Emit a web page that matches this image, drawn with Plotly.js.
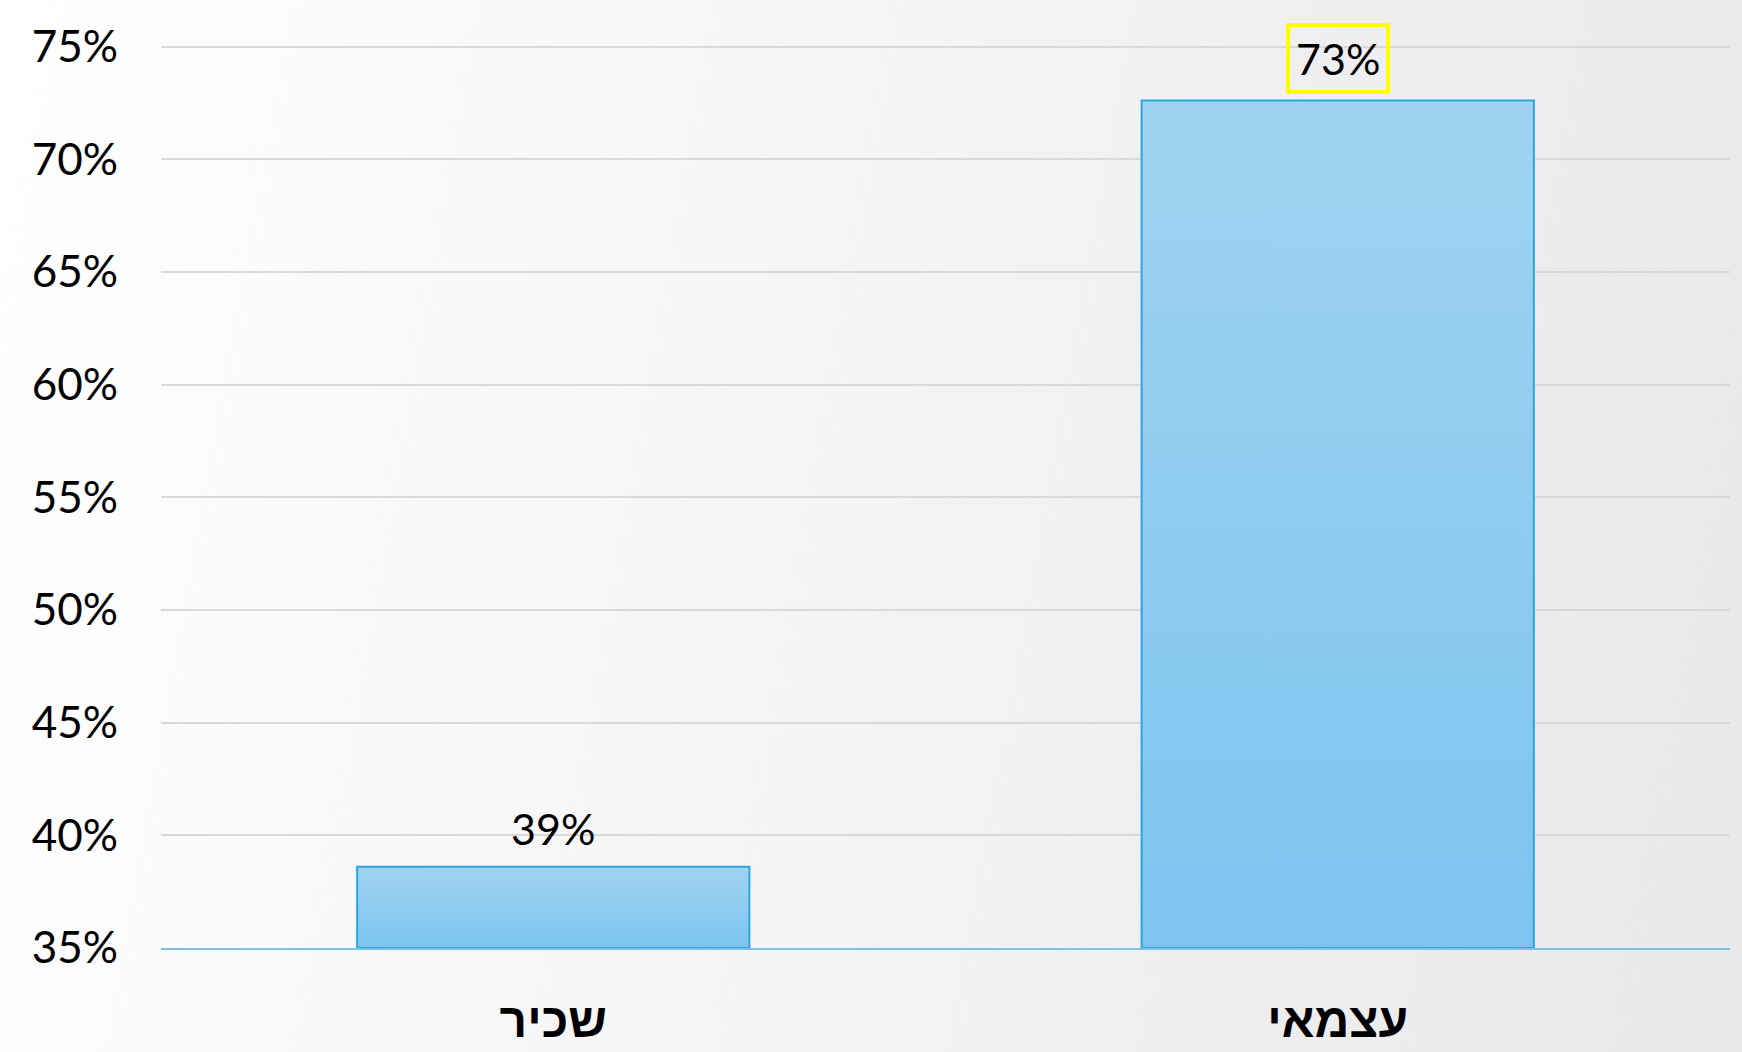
<!DOCTYPE html>
<html>
<head>
<meta charset="utf-8">
<script src="https://cdn.plot.ly/plotly-3.0.1.min.js"></script>
<style>
  html, body { margin: 0; padding: 0; }
  body {
    width: 1742px; height: 1052px; overflow: hidden;
    background: linear-gradient(100deg, #ffffff 0%, #f7f7f8 35%, #efeef0 70%, #e9e9ec 100%);
  }
  #chart { width: 1742px; height: 1052px; }
</style>
</head>
<body>
<div id="chart"></div>
<script>
// Data
const categories = ['שכיר', 'עצמאי'];
const values = [38.6, 72.6];
const valueLabels = ['39%', '73%'];
const highlighted = [false, true];
const yTickVals = [35, 40, 45, 50, 55, 60, 65, 70, 75];
const axisFloor = 35;

const trace = {
  type: 'bar',
  x: categories,
  y: values.map(v => v - axisFloor),
  base: axisFloor,
  marker: {
    color: '#8ecbf0',
    line: { color: '#2aa7df', width: 2 }
  },
  hoverinfo: 'skip'
};

const annotations = categories.map((c, i) => ({
  x: c,
  y: values[i],
  xref: 'x', yref: 'y',
  text: valueLabels[i],
  showarrow: false,
  yanchor: 'bottom',
  yshift: 7,
  font: { family: 'Lato, "Open Sans", sans-serif', size: 43, color: '#000000' },
  bordercolor: highlighted[i] ? '#ffff00' : 'rgba(0,0,0,0)',
  borderwidth: highlighted[i] ? 4 : 0,
  borderpad: 6
}));

const layout = {
  width: 1742,
  height: 1052,
  margin: { l: 161, r: 12, t: 42, b: 104 },
  paper_bgcolor: 'rgba(0,0,0,0)',
  plot_bgcolor: 'rgba(0,0,0,0)',
  bargap: 0.5,
  showlegend: false,
  xaxis: {
    type: 'category',
    showgrid: false,
    showline: true,
    linecolor: '#7cc4e4',
    linewidth: 2,
    ticks: '',
    ticklabelstandoff: 29,
    tickfont: { family: '"Liberation Sans", Arial, sans-serif', size: 48, color: '#000000', weight: 'bold' }
  },
  yaxis: {
    range: [35, 75.2],
    tickvals: yTickVals,
    ticktext: yTickVals.map(v => v + '%'),
    showgrid: true,
    gridcolor: '#d9d9d9',
    gridwidth: 2,
    zeroline: false,
    showline: false,
    ticks: '',
    ticklabelstandoff: 42,
    tickfont: { family: 'Lato, "Open Sans", sans-serif', size: 44, color: '#000000' }
  },
  annotations: annotations
};

Plotly.newPlot('chart', [trace], layout, { displayModeBar: false, staticPlot: true }).then(gd => {
  // vertical gradient fill on the bars, matching the original
  const svg = gd.querySelector('svg.main-svg');
  const ns = 'http://www.w3.org/2000/svg';
  let defs = svg.querySelector('defs');
  if (!defs) { defs = document.createElementNS(ns, 'defs'); svg.insertBefore(defs, svg.firstChild); }
  const grad = document.createElementNS(ns, 'linearGradient');
  grad.setAttribute('id', 'barGrad');
  grad.setAttribute('x1', '0'); grad.setAttribute('y1', '0');
  grad.setAttribute('x2', '0'); grad.setAttribute('y2', '1');
  [['0%', '#a1d3f1'], ['100%', '#7cc4ef']].forEach(([o, c]) => {
    const s = document.createElementNS(ns, 'stop');
    s.setAttribute('offset', o); s.setAttribute('stop-color', c);
    grad.appendChild(s);
  });
  defs.appendChild(grad);
  gd.querySelectorAll('.bars .point path').forEach(p => { p.style.fill = 'url(#barGrad)'; });
});
</script>
</body>
</html>
